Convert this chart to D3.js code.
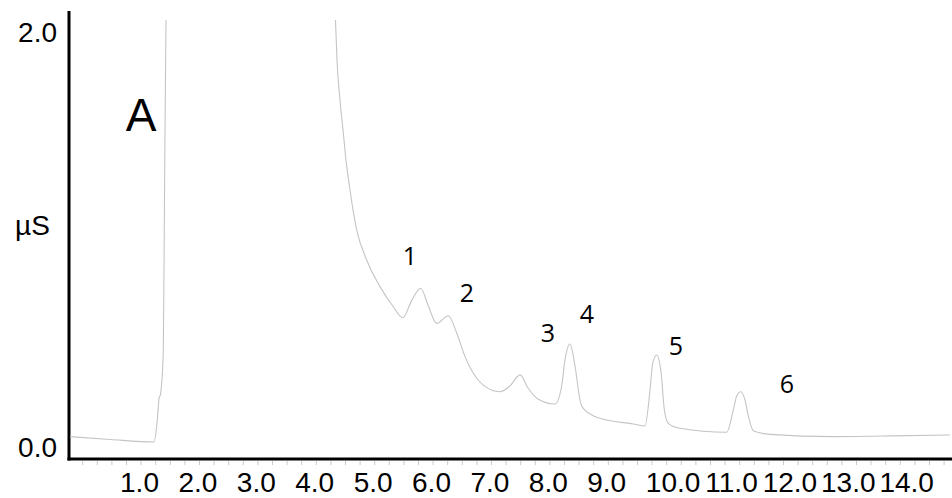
<!DOCTYPE html>
<html>
<head>
<meta charset="utf-8">
<script src="https://cdn.jsdelivr.net/npm/d3@7"></script>
<style>
  html, body { margin: 0; padding: 0; background: #fff; }
  svg { display: block; }
  text { font-family: "Liberation Sans", Arial, sans-serif; fill: #000; }
</style>
</head>
<body>
<svg id="chart" width="952" height="498"></svg>
<script>
// ---- Data (time in min, signal in µS) ----
const time = [0.04, 0.73, 1.48, 1.536, 1.57, 1.582, 1.611, 1.639, 1.659, 1.685, 1.75, 2.5, 3.5, 4.4, 4.587,
  4.613, 4.664, 4.716, 4.767, 4.836, 4.887, 4.95, 5.122, 5.349, 5.577, 5.738, 5.897, 6.046, 6.171, 6.32,
  6.519, 6.663, 6.805, 6.947, 7.118, 7.404, 7.575, 7.747, 7.884, 8.06, 8.346, 8.458, 8.517, 8.603, 8.689,
  8.774, 8.83, 9.116, 9.687, 9.887, 9.973, 10.019, 10.088, 10.163, 10.219, 10.286, 10.486, 11.286, 11.399,
  11.457, 11.526, 11.6, 11.657, 11.742, 12.027, 13.106, 13.962, 15.108];
const signal = [0.050, 0.036, 0.024, 0.130, 0.241, 0.245, 0.308, 0.467, 1.189, 2.055, 2.6, 3.0, 3.0, 2.6, 2.055,
  1.863, 1.671, 1.526, 1.381, 1.237, 1.141, 1.045, 0.900, 0.772, 0.675, 0.622, 0.708, 0.764, 0.684, 0.595,
  0.632, 0.549, 0.435, 0.355, 0.298, 0.266, 0.294, 0.347, 0.284, 0.230, 0.207, 0.290, 0.419, 0.496, 0.390,
  0.226, 0.186, 0.138, 0.111, 0.101, 0.274, 0.404, 0.443, 0.356, 0.178, 0.114, 0.090, 0.071, 0.178,
  0.245, 0.266, 0.226, 0.149, 0.078, 0.061, 0.050, 0.053, 0.058];

const xTickValues = [1, 2, 3, 4, 5, 6, 7, 8, 9, 10, 11, 12, 13, 14];
const yTickValues = [0, 2];
const yUnit = "µS";
const panelLabel = "A";
const peakLabels = ["1", "2", "3", "4", "5", "6"];
const peakLabelTime = [5.863, 6.839, 8.226, 8.894, 10.418, 12.318];
const peakLabelValue = [0.876, 0.698, 0.505, 0.597, 0.443, 0.260];

// ---- Layout ----
const svg = d3.select("#chart");
const x = d3.scaleLinear().domain([0, 15.144]).range([67.6, 952]);
const y = d3.scaleLinear().domain([0, 2]).range([447, 31.5]);
const axisY = 459;
const plotLeft = 69;

// clip
svg.append("defs").append("clipPath").attr("id", "clip")
  .append("rect").attr("x", plotLeft + 1).attr("y", 20).attr("width", 952 - plotLeft).attr("height", axisY - 20);

// minor ticks
const minorTicks = d3.range(1, 61).map(i => i * 0.25);
const minorAxis = d3.axisBottom(x).tickValues(minorTicks).tickSize(4).tickFormat("");
const gMinor = svg.append("g").attr("transform", `translate(0,${axisY + 2})`).call(minorAxis);
gMinor.select(".domain").remove();
gMinor.selectAll(".tick line").attr("stroke", "#c8c8c8").attr("stroke-width", 1);

// x labels
const xAxis = d3.axisBottom(x).tickValues(xTickValues).tickSize(0).tickFormat(d3.format(".1f"));
const gx = svg.append("g").attr("transform", `translate(0,${axisY})`).call(xAxis);
gx.select(".domain").remove();
gx.selectAll(".tick text")
  .attr("y", 0).attr("dy", 0)
  .attr("transform", d => `translate(${d >= 10 ? 21 : 13},${492 - axisY})`)
  .style("font-family", "'Liberation Sans', Arial, sans-serif")
  .style("font-size", "28px").attr("fill", "#000");

// y labels
const yAxis = d3.axisLeft(y).tickValues(yTickValues).tickSize(0).tickFormat(d3.format(".1f"));
const gy = svg.append("g").attr("transform", `translate(${plotLeft - 12},0)`).call(yAxis);
gy.select(".domain").remove();
gy.selectAll(".tick text")
  .attr("x", 0).attr("dy", "0.35em")
  .style("font-family", "'Liberation Sans', Arial, sans-serif")
  .style("font-size", "28px").attr("fill", "#000");

svg.append("text").attr("x", 15).attr("y", 235)
  .style("font-size", "28px").text(yUnit);

// axis lines
svg.append("line").attr("x1", plotLeft).attr("x2", plotLeft).attr("y1", 11).attr("y2", axisY + 1.5)
  .attr("stroke", "#000").attr("stroke-width", 3);
svg.append("line").attr("x1", plotLeft - 1.5).attr("x2", 952).attr("y1", axisY).attr("y2", axisY)
  .attr("stroke", "#000").attr("stroke-width", 3);

// trace
const pts = time.map((t, i) => [t, signal[i]]);
const line = d3.line().x(d => x(d[0])).y(d => y(d[1])).curve(d3.curveMonotoneX);
svg.append("path").datum(pts).attr("clip-path", "url(#clip)")
  .attr("d", line).attr("fill", "none").attr("stroke", "#c4c4c4").attr("stroke-width", 1.1);

// panel label
svg.append("text").attr("x", x(1.258)).attr("y", y(1.521)).attr("text-anchor", "middle")
  .style("font-size", "46px").text(panelLabel);

// peak labels
svg.selectAll("text.peak").data(peakLabels).join("text").attr("class", "peak")
  .attr("x", (d, i) => x(peakLabelTime[i])).attr("y", (d, i) => y(peakLabelValue[i]))
  .attr("text-anchor", "middle")
  .style("font-family", "'Open Sans', 'Noto Sans', sans-serif").style("font-size", "25px")
  .text(d => d);
</script>
</body>
</html>
